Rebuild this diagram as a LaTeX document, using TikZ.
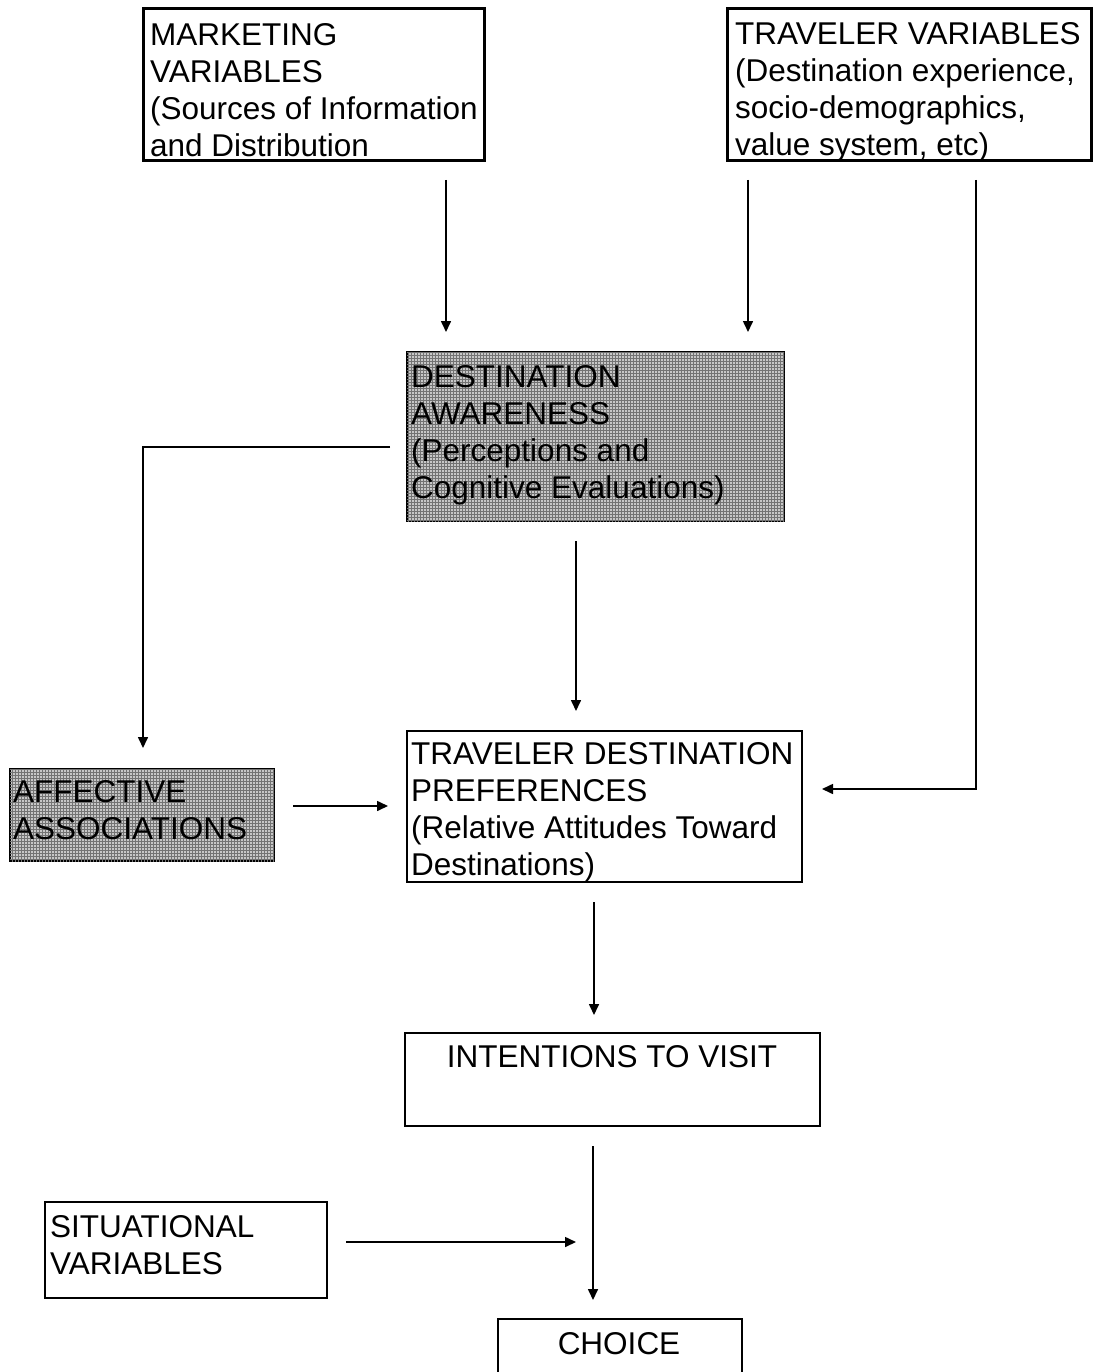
\documentclass[tikz,border=0pt]{standalone}
\usepackage{fontspec}
\setmainfont{Liberation Sans}
\usetikzlibrary{arrows.meta,patterns}
\begin{document}
\begin{tikzpicture}[x=1pt,y=-1pt,
  box/.style={draw=black, line width=1.3pt, rectangle, inner sep=0pt, outer sep=0pt, anchor=north west},
  heavybox/.style={box, line width=3pt},
  shadebox/.style={box, fill=black!22, postaction={pattern=grid, pattern color=black!55}},
  txt/.style={inner sep=0pt, anchor=base west, font=\fontsize{31.5}{37}\selectfont},
  ctxt/.style={inner sep=0pt, anchor=base, font=\fontsize{31.5}{37}\selectfont},
  arr/.style={line width=1.6pt, -{Triangle[length=11pt,width=10pt]}}]
\useasboundingbox (0,0) rectangle (1094,1372);

% boxes
\node[heavybox, minimum width=341pt, minimum height=152pt] (mkt) at (143,9) {};
\node[heavybox, minimum width=364pt, minimum height=152pt] (trv) at (727,9) {};
\node[shadebox, minimum width=377pt, minimum height=169pt] (da) at (407,352) {};
\node[shadebox, minimum width=264pt, minimum height=92pt] (aa) at (10,769) {};
\node[box, minimum width=395pt, minimum height=151pt] (tdp) at (407,731) {};
\node[box, minimum width=415pt, minimum height=93pt] (itv) at (405,1033) {};
\node[box, minimum width=282pt, minimum height=96pt] (sv) at (45,1202) {};
\node[box, minimum width=244pt, minimum height=90pt] (ch) at (498,1319) {};

% texts
\node[txt] (mkt-t) at (150,46) {\parbox[t]{400pt}{MARKETING\\VARIABLES\\(Sources of Information\\and Distribution}};
\node[txt] (trv-t) at (735,45) {\parbox[t]{400pt}{TRAVELER VARIABLES\\(Destination experience,\\socio-demographics,\\value system, etc)}};
\node[txt] (da-t) at (411,387) {\parbox[t]{400pt}{DESTINATION\\AWARENESS\\(Perceptions and\\Cognitive Evaluations)}};
\node[txt] (aa-t) at (13,802) {\parbox[t]{400pt}{AFFECTIVE\\ASSOCIATIONS}};
\node[txt] (tdp-t) at (411,764) {\parbox[t]{400pt}{TRAVELER DESTINATION\\PREFERENCES\\(Relative Attitudes Toward\\Destinations)}};
\node[ctxt] (itv-t) at (612,1067) {INTENTIONS TO VISIT};
\node[txt] (sv-t) at (50,1237) {\parbox[t]{400pt}{SITUATIONAL\\VARIABLES}};
\node[ctxt] (ch-t) at (619,1354) {CHOICE};

\coordinate (join) at (593,1242);

% connectors
\draw[arr] ([xshift=132.5pt,yshift=-19pt]mkt.south) -- ([xshift=-149.5pt,yshift=20pt]da.north);
\draw[arr] ([xshift=-161pt,yshift=-19pt]trv.south) -- ([xshift=152.5pt,yshift=20pt]da.north);
\draw[arr] ([xshift=67pt,yshift=-19pt]trv.south) |- ([xshift=20pt,yshift=17.5pt]tdp.east);
\draw[arr] ([xshift=-17pt,yshift=-10.5pt]da.west) -| ([xshift=1pt,yshift=21pt]aa.north);
\draw[arr] ([xshift=-19.5pt,yshift=-20pt]da.south) -- ([xshift=-28.5pt,yshift=20pt]tdp.north);
\draw[arr] ([xshift=19pt,yshift=9pt]aa.east) -- ([xshift=-19pt,yshift=0.5pt]tdp.west);
\draw[arr] ([xshift=-10.5pt,yshift=-20pt]tdp.south) -- ([xshift=-18.5pt,yshift=18pt]itv.north);
\draw[arr] ([xshift=-19.5pt,yshift=-20pt]itv.south) -- ([xshift=-27pt,yshift=19pt]ch.north);
\draw[arr] ([xshift=19pt,yshift=8pt]sv.east) -- ([xshift=-17pt]join);
\end{tikzpicture}
\end{document}
